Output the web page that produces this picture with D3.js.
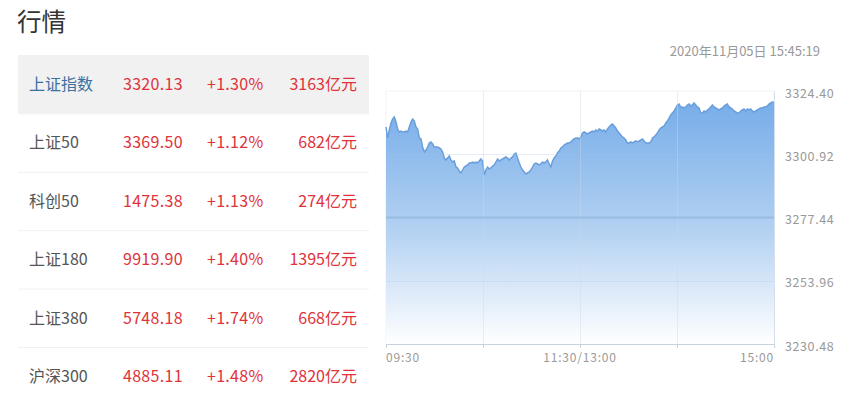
<!DOCTYPE html>
<html><head><meta charset="utf-8">
<script src="https://cdn.jsdelivr.net/npm/d3@7/dist/d3.min.js"></script>
<style>
body{margin:0;background:#fff;}
svg{display:block;font-family:"Noto Sans CJK SC","Noto Sans",sans-serif;}
</style></head>
<body><svg id="c" width="854" height="405"></svg>
<script>
// ---- table data ----
const names = ["上证指数","上证50","科创50","上证180","上证380","沪深300"];
const prices = ["3320.13","3369.50","1475.38","9919.90","5748.18","4885.11"];
const changes = ["+1.30%","+1.12%","+1.13%","+1.40%","+1.74%","+1.48%"];
const volumes = ["3163亿元","682亿元","274亿元","1395亿元","668亿元","2820亿元"];

// ---- chart data ----
const title = "行情";
const timestamp = "2020年11月05日 15:45:19";
const prevClose = 3277.44;
const yTicks = [3230.48, 3253.96, 3277.44, 3300.92, 3324.40];
const xTickMinutes = [0, 60, 120, 180, 240];
const xLabels = [{m:0,t:"09:30"},{m:120,t:"11:30/13:00"},{m:240,t:"15:00"}];
const values = [
3311.04,3306.95,3309.92,3312.52,3314.01,3314.75,3312.89,3310.29,3309.18,3309.55,
3309.18,3309.18,3309.55,3309.18,3311.04,3312.89,3314.01,3313.26,3311.04,3310.29,
3306.95,3306.58,3303.61,3301.75,3302.50,3303.61,3305.10,3305.47,3304.72,3303.61,
3303.61,3303.61,3303.24,3302.87,3301.75,3299.53,3298.79,3299.53,3300.27,3298.79,
3298.04,3298.41,3296.19,3295.81,3294.70,3293.96,3295.07,3296.19,3296.56,3296.93,
3297.67,3297.67,3298.04,3297.67,3298.04,3297.67,3298.41,3299.16,3298.41,
3293.22,3295.07,3296.19,3295.44,3295.81,3296.56,3296.93,3298.04,3299.16,3298.41,
3298.79,3299.16,3299.53,3299.90,3299.53,3298.79,3299.53,3299.90,3301.01,3301.38,
3299.53,3297.67,3296.19,3295.07,3294.33,3293.59,3293.96,3294.33,3295.07,3296.19,
3297.30,3297.67,3297.30,3296.93,3297.30,3298.04,3297.67,3298.04,3298.79,3297.30,
3296.19,3298.41,3299.53,3300.27,3301.38,3302.13,3303.24,3303.61,3304.35,3304.72,
3305.10,3305.10,3305.47,3306.21,3306.58,3306.95,3306.95,3306.58,
3307.32,3308.81,3309.18,3308.81,3308.44,3308.81,3309.18,3309.55,3309.18,3309.92,
3309.55,3310.29,3309.92,3309.55,3309.92,3309.18,3310.29,3311.04,3311.78,3312.15,
3311.41,3310.66,3309.55,3308.81,3308.07,3307.32,3306.95,3306.21,3305.10,3305.10,
3305.47,3305.10,3305.47,3305.84,3305.47,3305.84,3306.21,3306.58,3305.84,3305.10,
3305.10,3305.10,3305.47,3306.95,3307.32,3308.07,3308.81,3309.92,3310.66,3311.04,
3311.41,3312.52,3313.26,3314.38,3315.49,3316.23,3316.98,3318.09,
3319.20,3319.57,3318.46,3318.46,3318.09,3318.46,3319.20,3319.57,3318.83,3319.20,
3319.95,3319.20,3318.46,3318.09,3316.23,3316.23,3316.98,3316.60,3317.35,3317.72,
3318.46,3319.20,3318.46,3318.09,3317.72,3317.35,3317.72,3318.09,3318.83,3319.20,
3319.57,3318.46,3318.09,3317.72,3316.98,3316.60,3316.23,3316.23,3316.98,3317.35,
3317.72,3316.98,3317.72,3317.35,3317.72,3316.98,3316.60,3316.98,3317.35,3317.72,
3318.09,3318.09,3318.46,3318.46,3318.83,3319.57,3319.95,3320.32,3320.13
];

const svg = d3.select("#c");

// title
svg.append("text").attr("x",17).attr("y",31).attr("font-size",24.5).attr("fill","#333").text(title);

// ---- table ----
const rowTop = 55, rowH = 58.4, tLeft = 18, tRight = 369;
const rows = svg.append("g").selectAll("g").data(names).join("g")
  .attr("transform",(d,i)=>`translate(0,${rowTop+i*rowH})`);
rows.filter((d,i)=>i===0).append("rect").attr("x",tLeft).attr("y",0)
  .attr("width",tRight-tLeft).attr("height",rowH).attr("fill","#f1f1f1");
rows.filter((d,i)=>i>0).append("line").attr("x1",tLeft).attr("x2",tRight)
  .attr("y1",0.5).attr("y2",0.5).attr("stroke","#f0f0f0");
const red = "#e0323a";
rows.append("text").attr("x",29).attr("y",rowH/2).attr("dy","0.36em").attr("font-size",16)
  .attr("fill",(d,i)=>i===0?"#3d6f9f":"#555").text(d=>d);
rows.append("text").attr("x",123).attr("y",rowH/2).attr("dy","0.36em").attr("font-size",16)
  .attr("letter-spacing",0.3).attr("fill",red).text((d,i)=>prices[i]);
rows.append("text").attr("x",207).attr("y",rowH/2).attr("dy","0.36em").attr("font-size",16)
  .attr("letter-spacing",0.3).attr("fill",red).text((d,i)=>changes[i]);
rows.append("text").attr("x",357).attr("y",rowH/2).attr("dy","0.36em").attr("font-size",16)
  .attr("text-anchor","end").attr("fill",red).text((d,i)=>volumes[i]);

// ---- chart ----
const L = 386, R = 774, T = 91, B = 344;
const x = d3.scaleLinear().domain([0,240]).range([L,R]);
const y = d3.scaleLinear().domain([yTicks[0], yTicks[yTicks.length-1]]).range([B,T]);
const pts = values.map((v,i)=>({m: i*240/(values.length-1), v}));

svg.append("text").attr("x",820).attr("y",51).attr("dy","0.35em").attr("text-anchor","end")
  .attr("font-size",13).attr("fill","#999").text(timestamp);

const defs = svg.append("defs");
const grad = defs.append("linearGradient").attr("id","g1").attr("gradientUnits","userSpaceOnUse")
  .attr("x1",0).attr("x2",0).attr("y1",T).attr("y2",B);
grad.append("stop").attr("offset","0%").attr("stop-color","#72aae8");
grad.append("stop").attr("offset","55%").attr("stop-color","#b3d1f2");
grad.append("stop").attr("offset","100%").attr("stop-color","#ffffff");

// frame
svg.append("rect").attr("x",L).attr("y",T).attr("width",R-L).attr("height",B-T)
  .attr("fill","none").attr("stroke","#f2f4f8");

const area = d3.area().x(d=>x(d.m)).y0(B).y1(d=>y(d.v));
svg.append("path").datum(pts).attr("d",area).attr("fill","url(#g1)");
const line = d3.line().x(d=>x(d.m)).y(d=>y(d.v));
svg.append("path").datum(pts).attr("d",line).attr("fill","none")
  .attr("stroke","#6a9fdc").attr("stroke-width",1.5);

// grid
svg.append("g").selectAll("line").data(xTickMinutes.slice(1,-1)).join("line")
  .attr("x1",d=>x(d)+0.5).attr("x2",d=>x(d)+0.5).attr("y1",T).attr("y2",B)
  .attr("stroke","rgba(205,215,230,0.4)");
svg.append("g").selectAll("line").data(yTicks.filter(v=>v!==prevClose && v!==yTicks[0] && v!==yTicks[4])).join("line")
  .attr("x1",L).attr("x2",R).attr("y1",d=>Math.round(y(d))+0.5).attr("y2",d=>Math.round(y(d))+0.5)
  .attr("stroke","rgba(170,195,225,0.3)");
svg.append("line").attr("x1",L).attr("x2",R).attr("y1",y(prevClose)).attr("y2",y(prevClose))
  .attr("stroke","#98bce0").attr("stroke-width",2);
// right edge
svg.append("line").attr("x1",R+0.5).attr("x2",R+0.5).attr("y1",T).attr("y2",B)
  .attr("stroke","#d5e0ec");

// x axis
const xAxis = d3.axisBottom(x).tickValues(xTickMinutes).tickSize(4).tickFormat("");
const gx = svg.append("g").attr("transform",`translate(0,${B})`).call(xAxis);
gx.select(".domain").attr("stroke","#c9d3de");
gx.selectAll(".tick line").attr("stroke","#c9d3de");
svg.append("g").selectAll("text").data(xLabels).join("text")
  .attr("x",d=>x(d.m)).attr("y",358).attr("dy","0.35em").attr("font-size",12).attr("fill","#999")
  .attr("letter-spacing",0.8)
  .attr("text-anchor",(d,i)=>i===0?"start":(i===xLabels.length-1?"end":"middle"))
  .text(d=>d.t);

// y labels
const yAxis = d3.axisRight(y).tickValues(yTicks).tickSize(0).tickFormat(d3.format(".2f"));
const gy = svg.append("g").attr("transform",`translate(${R+11},2)`).call(yAxis);
gy.select(".domain").remove();
gy.selectAll("text").attr("x",0).attr("font-size",12.5).attr("fill","#999").attr("letter-spacing",0.6)
  .attr("font-family","'Noto Sans CJK SC','Noto Sans',sans-serif");
</script></body></html>
